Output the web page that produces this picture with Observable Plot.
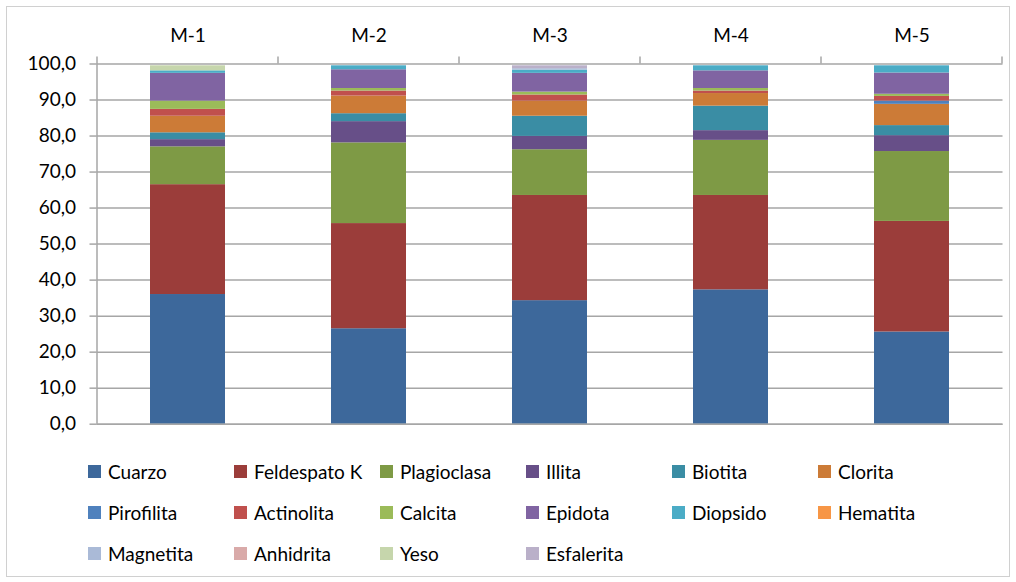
<!DOCTYPE html>
<html>
<head>
<meta charset="utf-8">
<script src="https://cdn.jsdelivr.net/npm/d3@7"></script>
<script src="https://cdn.jsdelivr.net/npm/@observablehq/plot@0.6"></script>
<style>
  body { margin: 0; background: #fff; }
  #wrap { position: relative; width: 1016px; height: 582px; font-family: Lato, sans-serif; color: #000; overflow: hidden; }
  #frame { position: absolute; left: 6px; top: 6px; width: 1002px; height: 569px; border: 1px solid #d0d0d0; }
  #chart { position: absolute; left: 0; top: 0; }
  #legend { position: absolute; left: 88px; top: 451px; display: grid; grid-template-columns: repeat(6, 146px); }
  .item { height: 41px; display: flex; align-items: center; font-size: 19px; white-space: nowrap; }
  .sw { width: 13px; height: 13px; margin-right: 7px; flex: none; }
</style>
</head>
<body>
<div id="wrap">
  <div id="frame"></div>
  <div id="chart"></div>
  <div id="legend"></div>
</div>
<script>
// Categories (samples)
const categories = ["M-1", "M-2", "M-3", "M-4", "M-5"];
// Minerals in stacking order (bottom to top) and colours
const minerals = ["Cuarzo", "Feldespato K", "Plagioclasa", "Illita", "Biotita", "Clorita",
  "Pirofilita", "Actinolita", "Calcita", "Epidota", "Diopsido", "Hematita",
  "Magnetita", "Anhidrita", "Yeso", "Esfalerita"];
const colors = ["#3D689B", "#9B3D3A", "#7E9A45", "#674F88", "#3A8DA4", "#CC7B37",
  "#4F81BD", "#C0504D", "#9BBB59", "#8064A2", "#4BACC6", "#F79646",
  "#AABAD7", "#D9AAA9", "#C6D6AC", "#BAB0C9"];
// Values (%) per mineral, for M-1..M-5
const cuarzo      = [36.0, 26.5, 34.3, 37.3, 25.6];
const feldespatoK = [30.5, 29.2, 29.2, 26.2, 30.7];
const plagioclasa = [10.5, 22.4, 12.7, 15.3, 19.4];
const illita      = [2.0, 5.9, 3.7, 2.7, 4.4];
const biotita     = [1.9, 2.2, 5.6, 6.8, 2.8];
const clorita     = [4.6, 4.9, 4.2, 3.5, 5.9];
const pirofilita  = [0, 0, 0, 0, 0.9];
const actinolita  = [1.9, 1.4, 1.7, 0.7, 1.3];
const calcita     = [2.3, 0.7, 0.8, 0.7, 0.6];
const epidota     = [7.7, 5.2, 5.2, 4.9, 5.9];
const diopsido    = [0.7, 1.1, 0.9, 1.4, 2.0];
const hematita    = [0, 0, 0, 0, 0];
const magnetita   = [0, 0, 0.4, 0, 0];
const anhidrita   = [0, 0, 0, 0, 0];
const yeso        = [1.4, 0, 0, 0, 0];
const esfalerita  = [0, 0, 0.8, 0, 0];
// y tick values
const yTicks = [0, 10, 20, 30, 40, 50, 60, 70, 80, 90, 100];

const series = [cuarzo, feldespatoK, plagioclasa, illita, biotita, clorita, pirofilita,
  actinolita, calcita, epidota, diopsido, hematita, magnetita, anhidrita, yeso, esfalerita];

const table = [];
minerals.forEach((m, i) => {
  categories.forEach((c, j) => table.push({muestra: c, mineral: m, valor: series[i][j]}));
});

const gridColor = "#a6a6a6";
const pad = 0.585;

function axisLines(index, scales) {
  const {x, y} = scales;
  const step = x(categories[1]) - x(categories[0]);
  const bw = typeof x.bandwidth === "function" ? x.bandwidth() : step * (1 - pad);
  const left = x(categories[0]) - (step - bw) / 2;
  const g = d3.create("svg:g").attr("stroke", gridColor).attr("stroke-width", 1.5);
  const yTop = y(100) - 7;
  g.append("line").attr("x1", left).attr("x2", left).attr("y1", yTop).attr("y2", y(0));
  for (let i = 1; i <= categories.length; i++) {
    const bx = left + i * step;
    g.append("line").attr("x1", bx).attr("x2", bx).attr("y1", yTop).attr("y2", y(100));
  }
  return g.node();
}

const chart = Plot.plot({
  width: 1016,
  height: 440,
  marginTop: 63.5,
  marginBottom: 16.3,
  marginLeft: 96.5,
  marginRight: 13.5,
  x: {domain: categories, paddingInner: pad, paddingOuter: pad / 2, axis: null, label: null},
  y: {domain: [0, 100], axis: null, label: null},
  color: {domain: minerals, range: colors},
  style: {fontFamily: "Lato, sans-serif", fontSize: "19px", color: "#000", background: "transparent", overflow: "visible"},
  marks: [
    Plot.gridY(yTicks, {stroke: gridColor, strokeOpacity: 1, strokeWidth: 1.5}),
    Plot.axisY(yTicks, {tickSize: 7, tickPadding: 14, stroke: gridColor, strokeWidth: 1.5, strokeOpacity: 1,
      tickFormat: d => d.toFixed(1).replace(".", ","), fontSize: 19, label: null}),
    Plot.barY(table, {x: "muestra", y: "valor", fill: "mineral"}),
    Plot.ruleY([0], {stroke: gridColor, strokeWidth: 1.5}),
    Plot.axisX({anchor: "top", tickSize: 0, tickPadding: 22, fontSize: 19, label: null}),
    axisLines
  ]
});
document.getElementById("chart").appendChild(chart);

const legend = document.getElementById("legend");
minerals.forEach((m, i) => {
  const it = document.createElement("div");
  it.className = "item";
  const sw = document.createElement("span");
  sw.className = "sw";
  sw.style.background = colors[i];
  it.appendChild(sw);
  it.appendChild(document.createTextNode(m));
  legend.appendChild(it);
});
</script>
</body>
</html>
